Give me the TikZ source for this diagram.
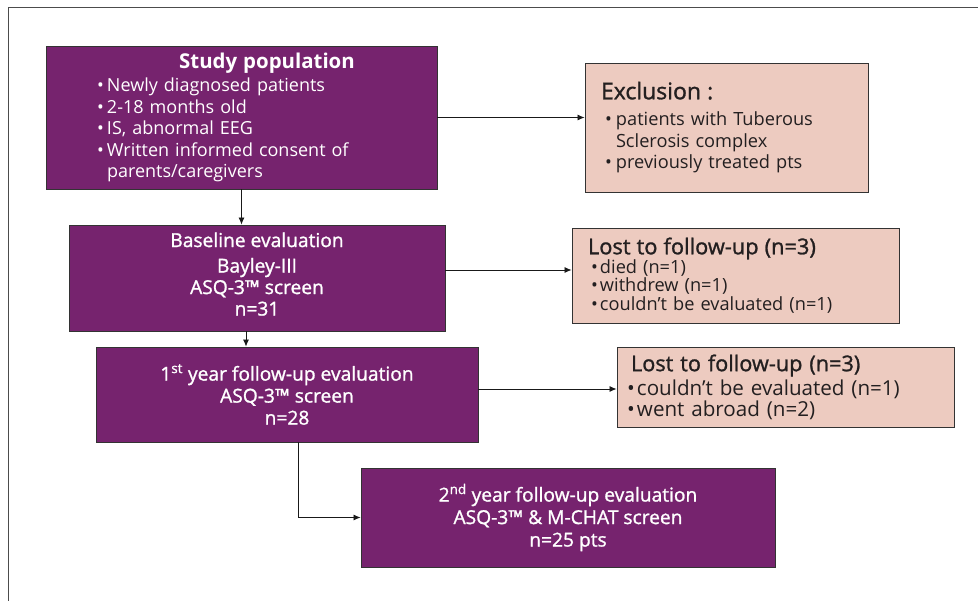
\documentclass[tikz,border=0pt]{standalone}
\usepackage{fontspec}
\setmainfont{Open Sans}
\newfontfamily\semib{Open Sans}[FakeBold=1.2]
\usetikzlibrary{arrows.meta}
\definecolor{plum}{RGB}{118,35,110}
\definecolor{blush}{RGB}{237,203,192}
\definecolor{ink}{RGB}{35,31,32}
\newcommand{\bitem}[2][10pt]{\makebox[#1][l]{\textbullet}#2}
\begin{document}
\begin{tikzpicture}[x=1pt,y=-1pt,
  purplebox/.style={draw=black!80, fill=plum, text=white, line width=0.9pt},
  pinkbox/.style={draw=black!80, fill=blush, text=ink, line width=0.9pt},
  conn/.style={line width=0.8pt, draw=black!90, -{Latex[length=7pt,width=6pt]}}]
\useasboundingbox (0,0) rectangle (978,601);
\draw[line width=1pt, black!70] (8,601) -- (8,8) -- (978,8);

% Study population
\node[purplebox, minimum width=391pt, minimum height=143pt, inner xsep=51pt,
      text width=289pt, align=left, font=\fontsize{18}{21.5}\selectfont]
  (study) at (241.5,117.5)
  {\hspace*{170pt}\makebox[0pt]{\fontsize{20.4}{24}\selectfont\bfseries Study population}\\[2pt]
   \bitem{Newly diagnosed patients}\\
   \bitem{2-18 months old}\\
   \bitem{IS, abnormal EEG}\\
   \bitem{Written informed consent of}\\
   \hspace*{10pt}parents/caregivers};

% Baseline
\node[purplebox, minimum width=376pt, minimum height=106pt, inner sep=0pt,
      align=center, font=\semib\fontsize{19.2}{21.5}\selectfont]
  (base) at (257,278)
  {Baseline evaluation\\[4pt] Bayley-III\\ ASQ-3™ screen\\ n=31\\[-13.5pt]};

% 1st year
\node[purplebox, minimum width=382pt, minimum height=95pt, inner sep=0pt,
      align=center, font=\semib\fontsize{19.2}{22}\selectfont]
  (first) at (287,394.5)
  {1\textsuperscript{st} year follow-up evaluation\\ ASQ-3™ screen\\ n=28};

% 2nd year
\node[purplebox, minimum width=414pt, minimum height=99pt, inner sep=0pt,
      align=center, font=\semib\fontsize{19.2}{22.5}\selectfont]
  (second) at (568,517.5)
  {2\textsuperscript{nd} year follow-up evaluation\\ ASQ-3™ \& M-CHAT screen\\ n=25 pts};

% Exclusion
\node[pinkbox, minimum width=283pt, minimum height=129pt, inner xsep=16pt,
      text width=251pt, align=left, font=\fontsize{18.2}{21.5}\selectfont]
  (excl) at (726.5,127.5)
  {{\semib\fontsize{23}{21}\selectfont Exclusion :}\\[5pt]
   \hspace*{4pt}\bitem[11pt]{patients with Tuberous}\\
   \hspace*{15pt}Sclerosis complex\\
   \hspace*{4pt}\bitem[11pt]{previously treated pts}};

% Lost 1
\node[pinkbox, minimum width=327pt, minimum height=95pt, inner xsep=16pt,
      text width=295pt, align=left, font=\fontsize{18.2}{18.6}\selectfont]
  (lostA) at (735.5,275.5)
  {{\semib\fontsize{21.8}{21}\selectfont Lost to follow-up (n=3)}\\[-1pt]
   \hspace*{3pt}\bitem[9pt]{died (n=1)}\\
   \hspace*{3pt}\bitem[9pt]{withdrew (n=1)}\\
   \hspace*{3pt}\bitem[9pt]{couldn’t be evaluated (n=1)}\\[-8pt]};

% Lost 2
\node[pinkbox, minimum width=337pt, minimum height=80pt, inner xsep=10pt,
      text width=317pt, align=left, font=\fontsize{20.6}{21}\selectfont]
  (lostB) at (785.5,387)
  {\hspace*{4pt}{\semib\fontsize{21.7}{21}\selectfont Lost to follow-up (n=3)}\\[3pt]
   \bitem{couldn’t be evaluated (n=1)}\\
   \bitem{went abroad (n=2)}};

% connectors
\draw[conn] (study.south) -- (study.south |- base.north);
\draw[conn] ([xshift=-11pt]base.south) -- ([xshift=-11pt]base.south |- first.north);
\draw[conn] ([xshift=11pt]first.south) |- (second.west);
\draw[conn] (study.east) -- (study.east -| excl.west);
\draw[conn] ([yshift=8pt]base.east) -- ([yshift=8pt]base.east -| lostA.west);
\draw[conn] ([yshift=5.5pt]first.east) -- ([yshift=5.5pt]first.east -| lostB.west);
\end{tikzpicture}
\end{document}
